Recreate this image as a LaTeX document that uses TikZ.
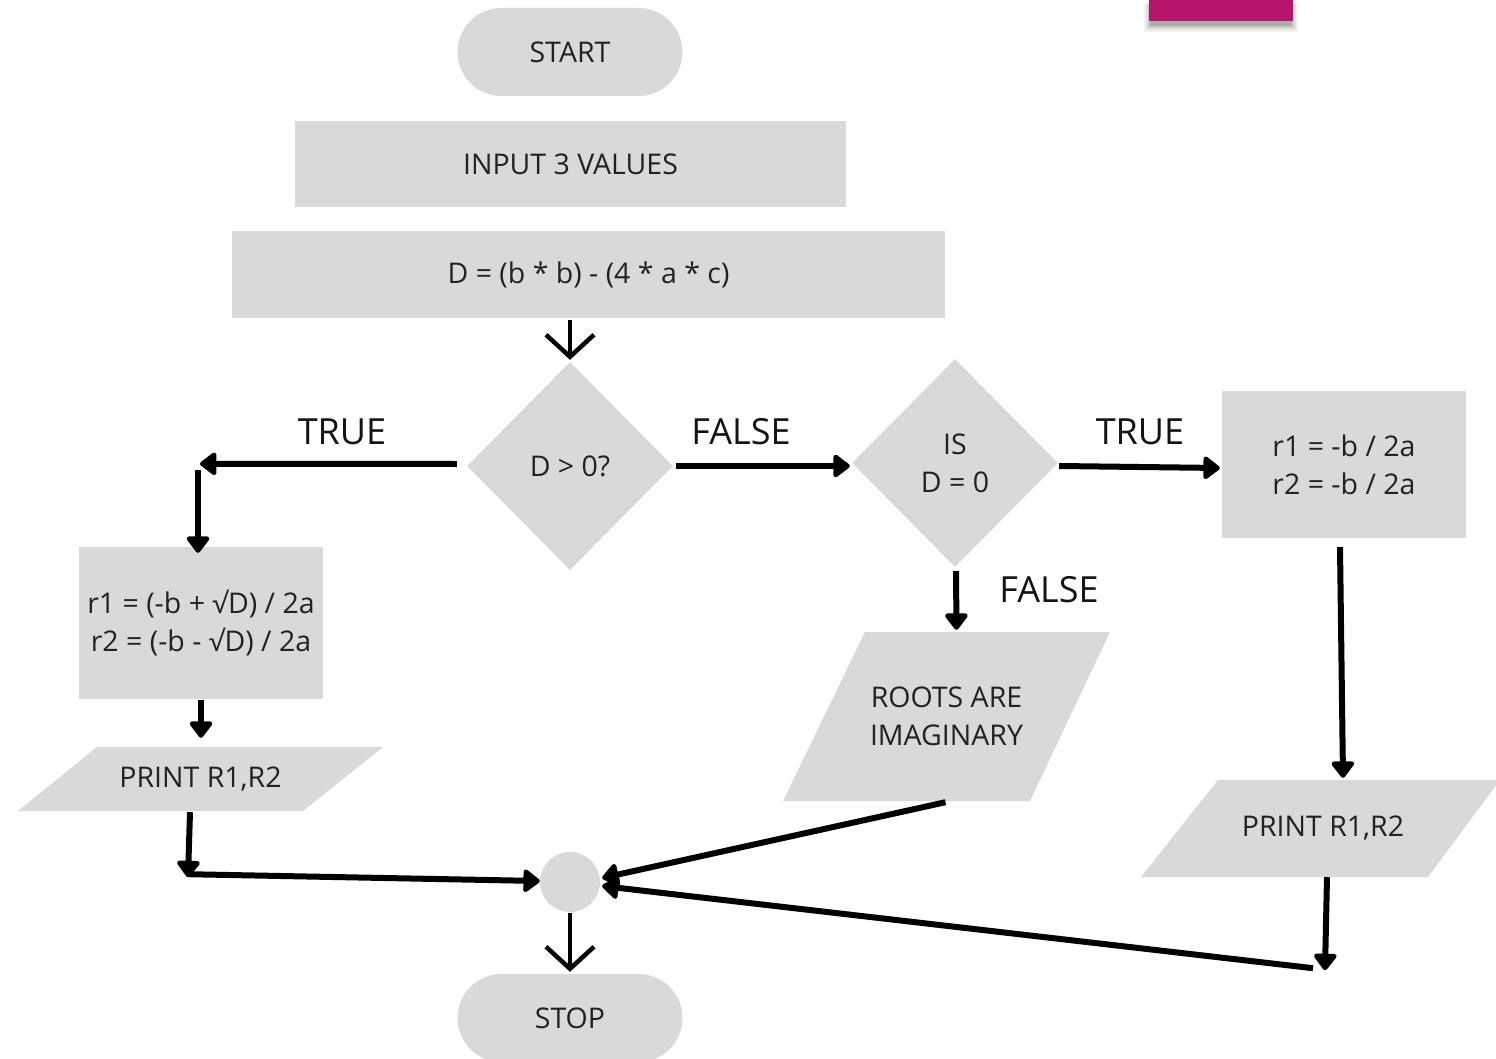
\documentclass[tikz,border=0pt]{standalone}
\usepackage{fontspec}
\setmainfont{Open Sans}
\usetikzlibrary{shapes.geometric,arrows.meta,calc}
\definecolor{boxgray}{HTML}{D9D9D9}
\definecolor{txt}{HTML}{222222}
\definecolor{mag}{HTML}{B5146A}
\begin{document}
\begin{tikzpicture}[x=1pt,y=-1pt,
  base/.style={fill=boxgray, draw=none, text=txt, font=\fontsize{28.5}{38}\selectfont, inner sep=0pt, align=center},
  proc/.style={base, rectangle},
  term/.style={base, rectangle, rounded corners=44pt, minimum width=225pt, minimum height=88pt},
  decis/.style={base, diamond, minimum width=206pt, minimum height=208pt},
  io/.style={base, fill=none, rectangle},
  iofill/.style={fill=boxgray},
  lbl/.style={text=black!92, font=\fontsize{36}{40}\selectfont, inner sep=0pt},
  arr/.style={line width=6pt, -{Triangle[length=18pt,width=26pt,round]}},
  openarr/.style={line width=4.5pt, -{Straight Barb[length=22pt,width=48pt]}},
]
\useasboundingbox (0,0) rectangle (1496,1059);
% magenta box with soft shadow below
\foreach \i/\o in {7/0.05,5/0.07,3/0.10,1/0.14}{
  \fill[black, opacity=\o] (1151-\i,4) rectangle (1291+\i,25+\i);
}
\fill[mag] (1149,-5) rectangle (1293,21);

% parallelogram bodies
\fill[iofill] (97,747) -- (383,747) -- (303,811) -- (18,811) -- cycle;
\fill[iofill] (865,632) -- (1110,632) -- (1030,801) -- (783,801) -- cycle;
\fill[iofill] (1218,780) -- (1500,780) -- (1428,877) -- (1141,877) -- cycle;

\node[term] (start) at (570,52) {START};
\node[proc, minimum width=551pt, minimum height=86pt] (input) at (570.5,164) {INPUT 3 VALUES};
\node[proc, minimum width=713pt, minimum height=87pt] (calcd) at (588.5,274.5) {D = (b * b) - (4 * a * c)};
\node[decis] (d1) at (570,466) {D > 0?};
\node[decis] (d2) at (955,463) {IS\\D = 0};
\node[proc, minimum width=244pt, minimum height=147pt] (rr) at (1344,464.5) {r1 = -b / 2a\\r2 = -b / 2a};
\node[proc, minimum width=244pt, minimum height=152pt] (lr) at (201,623) {r1 = (-b + \char"221A D) / 2a\\r2 = (-b - \char"221A D) / 2a};
\node[io, minimum width=286pt, minimum height=64pt] (lp) at (200.5,779) {PRINT R1,R2};
\node[io, minimum width=247pt, minimum height=169pt] (roots) at (946.5,716.5) {ROOTS ARE\\IMAGINARY};
\node[io, minimum width=280pt, minimum height=97pt] (rp) at (1323,828.5) {PRINT R1,R2};
\node[base, circle, minimum size=60pt] (join) at (570,882) {};
\node[term] (stop) at (570,1018) {STOP};

% labels
\node[lbl] (t1) at (342,432) {TRUE};
\node[lbl] (f1) at (741,432) {FALSE};
\node[lbl] (t2) at (1140,432) {TRUE};
\node[lbl] (f2) at (1049,590) {FALSE};

% connectors
\coordinate (tl) at ($(lr.north)+(-1,-83)$);
\draw[openarr] ($(calcd.south -| d1.north)+(0,2)$) -- ($(d1.north)+(0,-2)$);
\draw[arr] ($(d1.west)+(-10,-2)$) -- (tl);
\draw[arr] ($(tl)+(-2,6)$) -- ($(lr.north)+(-3,6)$);
\draw[arr] ($(d1.east)+(3,0)$) -- ($(d2.west)+(-2,3)$);
\draw[arr] ($(d2.east)+(1,3)$) -- ($(rr.west)+(-2,3.5)$);
\draw[arr] ($(d2.south)+(1,4)$) -- ($(roots.north)+(10,-2)$);
\draw[arr] ($(rr.south)+(-4,9)$) -- ($(rp.north)+(20,-2)$);
\draw[arr] ($(lr.south)+(0,1)$) -- ($(lp.north)+(0.5,-9)$);
\coordinate (bl) at ($(lp.south)+(-12.5,66)$);
\draw[arr] ($(lp.south)+(-10.5,1)$) -- (bl);
\draw[arr] ($(bl)+(0,-3)$) -- ($(join.west)+(0,-1)$);
\draw[arr] ($(roots.south)+(-1,1)$) -- ($(join.east)+(2,-4)$);
\coordinate (br) at ($(rp.south)+(2,93)$);
\draw[arr] ($(rp.south)+(4,0)$) -- (br);
\draw[arr] ($(br)+(-12,-2)$) -- ($(join.east)+(2,4)$);
\draw[openarr] ($(join.south)+(0,1)$) -- ($(stop.north)+(0,-2)$);
\end{tikzpicture}
\end{document}
